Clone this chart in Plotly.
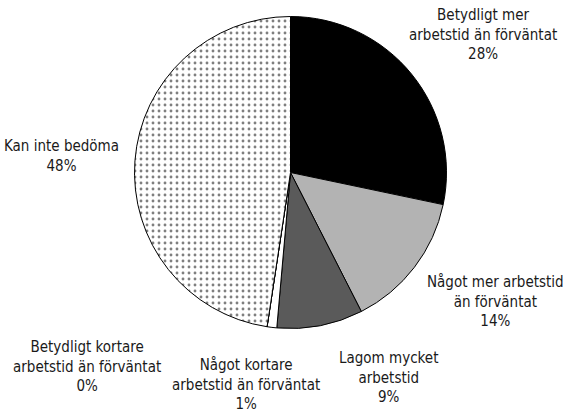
import plotly.graph_objects as go

# Data
labels = [
    "Betydligt mer arbetstid än förväntat",
    "Något mer arbetstid än förväntat",
    "Lagom mycket arbetstid",
    "Något kortare arbetstid än förväntat",
    "Betydligt kortare arbetstid än förväntat",
    "Kan inte bedöma",
]
label_lines = [
    "Betydligt mer<br>arbetstid än förväntat",
    "Något mer arbetstid<br>än förväntat",
    "Lagom mycket<br>arbetstid",
    "Något kortare<br>arbetstid än förväntat",
    "Betydligt kortare<br>arbetstid än förväntat",
    "Kan inte bedöma",
]
values = [28.3, 14.2, 8.9, 1.0, 0.0, 47.6]

# Styles
colors = ["#000000", "#b3b3b3", "#5a5a5a", "#ffffff", "#ffffff", "#ffffff"]
shapes = ["", "", "", "", "", "."]

W, H = 563, 412
FONT = "DejaVu Sans Condensed, Liberation Sans, sans-serif"

fig = go.Figure(go.Pie(
    labels=labels,
    values=values,
    sort=False,
    direction="clockwise",
    rotation=0,
    textinfo="none",
    hoverinfo="label+percent",
    showlegend=False,
    marker=dict(
        colors=colors,
        line=dict(color="#000000", width=1),
        pattern=dict(shape=shapes, fgcolor="#000000", bgcolor="#ffffff",
                     size=6, solidity=0.18, fillmode="overlay"),
    ),
    domain=dict(x=[(290.5 - 156) / W, (290.5 + 156) / W],
                y=[1 - 328.5 / H, 1 - 16.5 / H]),
))

# Label anchor positions (pixel centers of the label blocks)
label_pos = [(483, 35), (495, 301), (388, 377), (246, 384), (87, 366), (61, 156)]

total = sum(values)
annotations = []
for txt, v, (px, py) in zip(label_lines, values, label_pos):
    annotations.append(dict(
        text=f"{txt}<br>{round(100 * v / total):.0f}%",
        x=px / W, y=1 - py / H, xref="paper", yref="paper",
        xanchor="center", yanchor="middle", showarrow=False, align="center",
        font=dict(family=FONT, size=15, color="#1a1a1a"),
    ))

fig.update_layout(
    width=W, height=H,
    margin=dict(l=0, r=0, t=0, b=0),
    paper_bgcolor="#ffffff",
    plot_bgcolor="#ffffff",
    annotations=annotations,
    font=dict(family=FONT, size=15, color="#1a1a1a"),
)

fig.write_html("out.html",
               config={"displayModeBar": False},
               post_script="document.body.style.margin='0';document.body.style.padding='0';")
